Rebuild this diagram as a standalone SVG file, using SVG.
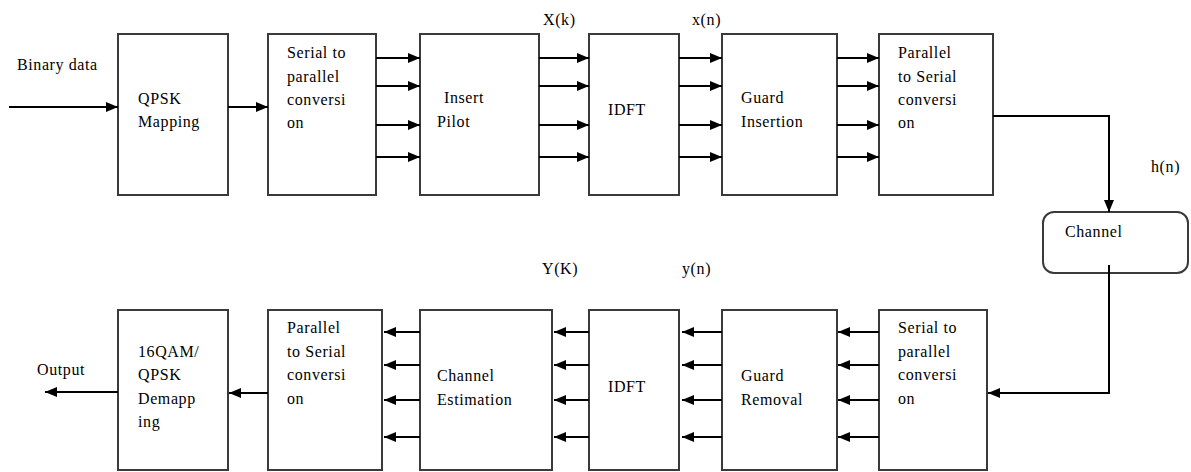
<svg xmlns="http://www.w3.org/2000/svg" width="1191" height="472" viewBox="0 0 1191 472">
<defs>
<marker id="ah" viewBox="0 0 12 10" refX="12" refY="5" markerWidth="12" markerHeight="10" markerUnits="userSpaceOnUse" orient="auto">
<path d="M0,0 L12,5 L0,10 z" fill="#000"/>
</marker>
</defs>
<style>
.box{fill:#fff;stroke:#3a3a3a;stroke-width:2}
.t{font-family:"Liberation Serif","Times New Roman",serif;font-size:16px;fill:#000;letter-spacing:0.6px}
.c{stroke:#000;stroke-width:2;fill:none}
.a{stroke:#000;stroke-width:2;fill:none;marker-end:url(#ah)}
</style>
<rect width="1191" height="472" fill="#fff"/>

<g id="qpsk-mapping">
<rect class="box" x="118" y="34" width="110" height="161"/>
<text class="t" x="138" y="104">QPSK</text>
<text class="t" x="138" y="127">Mapping</text>
</g>
<g id="serial-to-parallel-tx">
<rect class="box" x="268" y="34" width="108" height="161"/>
<text class="t" x="287" y="58">Serial to</text>
<text class="t" x="287" y="82">parallel</text>
<text class="t" x="287" y="105">conversi</text>
<text class="t" x="287" y="128">on</text>
</g>
<g id="insert-pilot">
<rect class="box" x="420" y="34" width="119" height="161"/>
<text class="t" x="444" y="103">Insert</text>
<text class="t" x="437" y="127">Pilot</text>
</g>
<g id="idft-tx">
<rect class="box" x="589" y="34" width="90" height="161"/>
<text class="t" x="608" y="115">IDFT</text>
</g>
<g id="guard-insertion">
<rect class="box" x="722" y="34" width="115" height="161"/>
<text class="t" x="741" y="103">Guard</text>
<text class="t" x="741" y="127">Insertion</text>
</g>
<g id="parallel-to-serial-tx">
<rect class="box" x="879" y="34" width="114" height="161"/>
<text class="t" x="898" y="58">Parallel</text>
<text class="t" x="898" y="82">to Serial</text>
<text class="t" x="898" y="105">conversi</text>
<text class="t" x="898" y="128">on</text>
</g>
<g id="channel">
<rect class="box" x="1043" y="212" width="145" height="61" rx="11" ry="11"/>
<text class="t" x="1065" y="237">Channel</text>
</g>
<g id="serial-to-parallel-rx">
<rect class="box" x="879" y="310" width="108" height="160"/>
<text class="t" x="898" y="333">Serial to</text>
<text class="t" x="898" y="357">parallel</text>
<text class="t" x="898" y="380">conversi</text>
<text class="t" x="898" y="404">on</text>
</g>
<g id="guard-removal">
<rect class="box" x="722" y="310" width="115" height="160"/>
<text class="t" x="741" y="381">Guard</text>
<text class="t" x="741" y="405">Removal</text>
</g>
<g id="idft-rx">
<rect class="box" x="589" y="310" width="90" height="160"/>
<text class="t" x="608" y="392">IDFT</text>
</g>
<g id="channel-estimation">
<rect class="box" x="420" y="310" width="132" height="160"/>
<text class="t" x="437" y="381">Channel</text>
<text class="t" x="437" y="405">Estimation</text>
</g>
<g id="parallel-to-serial-rx">
<rect class="box" x="268" y="310" width="114" height="160"/>
<text class="t" x="287" y="333">Parallel</text>
<text class="t" x="287" y="357">to Serial</text>
<text class="t" x="287" y="380">conversi</text>
<text class="t" x="287" y="404">on</text>
</g>
<g id="demapping">
<rect class="box" x="118" y="310" width="110" height="160"/>
<text class="t" x="138" y="357">16QAM/</text>
<text class="t" x="138" y="380">QPSK</text>
<text class="t" x="138" y="404">Demapp</text>
<text class="t" x="138" y="427">ing</text>
</g>

<g id="labels">
<text class="t" x="17" y="70">Binary data</text>
<text class="t" x="543" y="25">X(k)</text>
<text class="t" x="692" y="25">x(n)</text>
<text class="t" x="1151" y="172">h(n)</text>
<text class="t" x="542" y="274">Y(K)</text>
<text class="t" x="682" y="274">y(n)</text>
<text class="t" x="37" y="375">Output</text>
</g>

<g id="connectors">
<line class="a" x1="9" y1="107" x2="118" y2="107"/>
<line class="a" x1="228" y1="107" x2="268" y2="107"/>
<line class="a" x1="376" y1="58" x2="420" y2="58"/>
<line class="a" x1="376" y1="86" x2="420" y2="86"/>
<line class="a" x1="376" y1="125" x2="420" y2="125"/>
<line class="a" x1="376" y1="157" x2="420" y2="157"/>
<line class="a" x1="539" y1="58" x2="589" y2="58"/>
<line class="a" x1="539" y1="86" x2="589" y2="86"/>
<line class="a" x1="539" y1="125" x2="589" y2="125"/>
<line class="a" x1="539" y1="157" x2="589" y2="157"/>
<line class="a" x1="679" y1="58" x2="722" y2="58"/>
<line class="a" x1="679" y1="86" x2="722" y2="86"/>
<line class="a" x1="679" y1="125" x2="722" y2="125"/>
<line class="a" x1="679" y1="157" x2="722" y2="157"/>
<line class="a" x1="837" y1="58" x2="879" y2="58"/>
<line class="a" x1="837" y1="86" x2="879" y2="86"/>
<line class="a" x1="837" y1="125" x2="879" y2="125"/>
<line class="a" x1="837" y1="157" x2="879" y2="157"/>
<polyline class="a" points="993,116 1109,116 1109,212"/>
<polyline class="a" points="1109,265 1109,393 988,393"/>
<line class="a" x1="879" y1="332" x2="838" y2="332"/>
<line class="a" x1="879" y1="365" x2="838" y2="365"/>
<line class="a" x1="879" y1="400" x2="838" y2="400"/>
<line class="a" x1="879" y1="437" x2="838" y2="437"/>
<line class="a" x1="722" y1="332" x2="682" y2="332"/>
<line class="a" x1="722" y1="365" x2="682" y2="365"/>
<line class="a" x1="722" y1="400" x2="682" y2="400"/>
<line class="a" x1="722" y1="437" x2="682" y2="437"/>
<line class="a" x1="589" y1="332" x2="554" y2="332"/>
<line class="a" x1="589" y1="365" x2="554" y2="365"/>
<line class="a" x1="589" y1="400" x2="554" y2="400"/>
<line class="a" x1="589" y1="437" x2="554" y2="437"/>
<line class="a" x1="420" y1="332" x2="384" y2="332"/>
<line class="a" x1="420" y1="365" x2="384" y2="365"/>
<line class="a" x1="420" y1="400" x2="384" y2="400"/>
<line class="a" x1="420" y1="437" x2="384" y2="437"/>
<line class="a" x1="268" y1="393" x2="229" y2="393"/>
<line class="a" x1="118" y1="392" x2="45" y2="392"/>
</g>
</svg>
